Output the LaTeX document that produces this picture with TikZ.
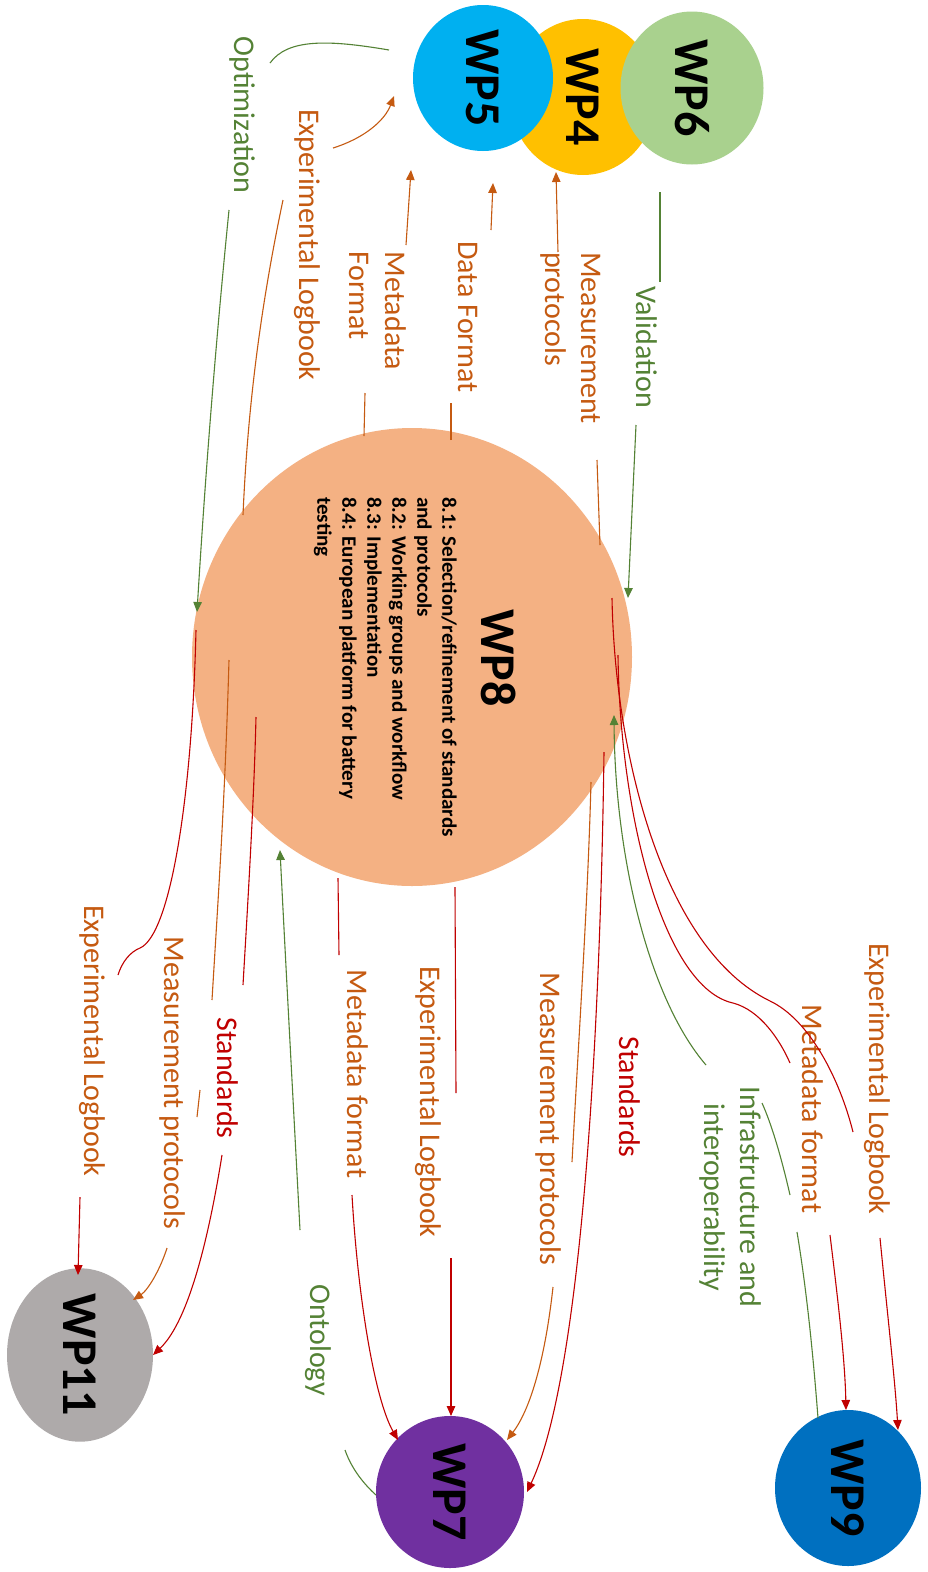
\documentclass[tikz,border=0pt]{standalone}
\usepackage{fontspec}
\setmainfont{Carlito}
\newfontfamily\bodyfont[FakeStretch=1.03]{Carlito}
\usetikzlibrary{shapes.geometric,arrows.meta}
\definecolor{cOr}{HTML}{C55A11}
\definecolor{cGr}{HTML}{548235}
\definecolor{cRd}{HTML}{C00000}
\definecolor{cWPfive}{HTML}{00B0F0}
\definecolor{cWPfour}{HTML}{FFC000}
\definecolor{cWPsix}{HTML}{A9D18E}
\definecolor{cWPeight}{HTML}{F4B183}
\definecolor{cWPnine}{HTML}{0070C0}
\definecolor{cWPseven}{HTML}{7030A0}
\definecolor{cWPeleven}{HTML}{AEAAAA}
\begin{document}
\begin{tikzpicture}[x=1pt,y=-1pt,
  wp/.style={ellipse,draw=none,inner sep=0pt,rotate=-90,text=black,
    font=\bfseries\fontsize{50}{50}\selectfont},
  lbl/.style={rotate=-90,font=\fontsize{30}{36}\selectfont,inner sep=0pt,align=center},
  lblL/.style={lbl,align=left},
  con/.style={line width=1.1pt},
  arr/.style={con,-{Triangle[length=10pt,width=8.5pt]}},
]
\fill[white] (0,0) rectangle (927,1572);
\useasboundingbox (0,0) rectangle (927,1572);

% ---------- work package circles ----------
\node[wp,fill=cWPfour,minimum width=156pt,minimum height=146pt] (wp4) at (583,97) {WP4};
\node[wp,fill=cWPfive,minimum width=146pt,minimum height=140pt] (wp5) at (483,78) {WP5};
\node[wp,fill=cWPsix,minimum width=153pt,minimum height=143pt] (wp6) at (692,88) {WP6};
\node[wp,fill=cWPeight,minimum width=458pt,minimum height=440pt] (wp8) at (412,657) {};
\node[wp,fill=cWPnine,minimum width=156pt,minimum height=146pt] (wp9) at (848,1488) {WP9};
\node[wp,fill=cWPseven,minimum width=152pt,minimum height=148pt] (wp7) at (450,1492) {WP7};
\node[wp,fill=cWPeleven,minimum width=150pt,minimum height=146pt] (wp11) at (80,1355) {WP11};

\node[rotate=-90,inner sep=0pt,font=\bfseries\fontsize{50}{50}\selectfont] (wp8t) at (499,658) {WP8};
\node[rotate=-90,anchor=north west,align=left,inner sep=0pt,
  font=\bodyfont\bfseries\fontsize{20.5}{25}\selectfont] (wp8b) at (457,497)
  {8.1: Selection/refinement of standards\\and protocols\\8.2: Working groups and workflow\\8.3: Implementation\\8.4: European platform for battery\\testing};

% ---------- labels ----------
\node[lbl,text=cGr] (lOpt) at (242,115) {Optimization};
\node[lbl,text=cOr] (lElT) at (307,245) {Experimental Logbook};
\node[lblL,text=cOr] (lMfT) at (378,311) {Metadata\\Format};
\node[lbl,text=cOr] (lDf) at (468,317) {Data Format};
\node[lblL,text=cOr] (lMpT) at (571,338) {Measurement\\protocols};
\node[lbl,text=cGr] (lVal) at (647,347) {Validation};

\node[lbl,text=cOr] (lElL) at (92,1041) {Experimental Logbook};
\node[lbl,text=cOr] (lMpL) at (172,1083) {Measurement protocols};
\node[lbl,text=cRd] (lStL) at (228,1078) {Standards};
\node[lbl,text=cGr] (lOnt) at (318,1340) {Ontology};
\node[lbl,text=cOr] (lMfM) at (358,1074) {Metadata format};
\node[lbl,text=cOr] (lElM) at (428,1102) {Experimental Logbook};
\node[lbl,text=cOr] (lMpM) at (548,1119) {Measurement protocols};
\node[lbl,text=cRd] (lStR) at (630,1097) {Standards};
\node[lbl,text=cGr] (lInf) at (730,1197) {Infrastructure and\\interoperability};
\node[lbl,text=cOr] (lMfR) at (813,1109) {Metadata format};
\node[lbl,text=cOr] (lElR) at (877,1079) {Experimental Logbook};

% ---------- connector end points ----------
% top group
\coordinate (opA) at (389,50);  \coordinate (opB) at (270,63);
\coordinate (opC) at (229,210); \coordinate (opD) at (197,612);
\coordinate (elA) at (243,515); \coordinate (elB) at (283,200);
\coordinate (elC) at (333,148); \coordinate (elD) at (394,96);
\coordinate (mfA) at (364,436); \coordinate (mfB) at (365,393);
\coordinate (mfC) at (406,245); \coordinate (mfD) at (411,170);
\coordinate (dfA) at (451,440); \coordinate (dfB) at (451,403);
\coordinate (dfC) at (491,230); \coordinate (dfD) at (493,183);
\coordinate (mpA) at (600,545); \coordinate (mpB) at (597,460);
\coordinate (mpC) at (558,252); \coordinate (mpD) at (556,172);
\coordinate (vaA) at (660,192); \coordinate (vaB) at (660,282);
\coordinate (vaC) at (636,425); \coordinate (vaD) at (628,598);
% right group
\coordinate (r1A) at (612,598); \coordinate (r1M) at (770,1001); \coordinate (r1B) at (853,1132);
\coordinate (r1C) at (880,1238); \coordinate (r1D) at (898,1430);
\coordinate (r2A) at (618,655); \coordinate (r2M) at (733,1003); \coordinate (r2B) at (790,1063);
\coordinate (r2C) at (830,1235); \coordinate (r2D) at (846,1410);
\coordinate (giA) at (818,1418); \coordinate (giB) at (797,1232);
\coordinate (giC) at (790,1195); \coordinate (giD) at (762,1103);
\coordinate (giE) at (706,1065); \coordinate (giF) at (614,715);
% middle group
\coordinate (stA) at (604,752); \coordinate (stB) at (527,1492);
\coordinate (m7A) at (591,782); \coordinate (m7B) at (572,1162);
\coordinate (m7C) at (553,1287); \coordinate (m7D) at (507,1440);
\coordinate (e7A) at (455,887); \coordinate (e7B) at (456,1093);
\coordinate (e7C) at (451,1258); \coordinate (e7D) at (451,1416);
\coordinate (f7A) at (338,878); \coordinate (f7B) at (339,955);
\coordinate (f7C) at (352,1195); \coordinate (f7D) at (398,1440);
\coordinate (onA) at (376,1495); \coordinate (onB) at (345,1450);
\coordinate (onC) at (300,1230); \coordinate (onD) at (280,850);
% left group
\coordinate (e1A) at (196,630); \coordinate (e1M) at (140,948); \coordinate (e1B) at (118,975);
\coordinate (e1C) at (80,1197); \coordinate (e1D) at (78,1275);
\coordinate (m1A) at (229,660); \coordinate (m1B) at (212,1000);
\coordinate (m1C) at (200,1090); \coordinate (m1D) at (197,1117);
\coordinate (m1E) at (167,1248); \coordinate (m1F) at (133,1300);
\coordinate (s1A) at (256,717); \coordinate (s1B) at (243,985);
\coordinate (s1C) at (222,1155); \coordinate (s1D) at (153,1355);

% ---------- connectors ----------
% WP5 -> WP8 optimization
\draw[con,cGr] (opA) .. controls (330,40) and (288,38) .. (opB);
\draw[arr,cGr] (opC) .. controls (215,350) and (205,480) .. (opD);
% WP8 -> WP5 experimental logbook
\draw[con,cOr] (elA) .. controls (248,400) and (262,300) .. (elB);
\draw[arr,cOr] (elC) .. controls (365,138) and (385,120) .. (elD);
% WP8 -> WP5 metadata / data format
\draw[con,cOr] (mfA) -- (mfB);
\draw[arr,cOr] (mfC) -- (mfD);
\draw[con,cOr] (dfA) -- (dfB);
\draw[arr,cOr] (dfC) -- (dfD);
% WP8 -> WP4 measurement protocols
\draw[con,cOr] (mpA) -- (mpB);
\draw[arr,cOr] (mpC) -- (mpD);
% WP6 -> WP8 validation
\draw[con,cGr] (vaA) -- (vaB);
\draw[arr,cGr] (vaC) -- (vaD);

% WP8 -> WP9
\draw[con,cRd] (r1A) .. controls (615,760) and (665,950) .. (r1M)
   .. controls (810,1020) and (840,1080) .. (r1B);
\draw[arr,cRd] (r1C) .. controls (888,1320) and (895,1380) .. (r1D);
\draw[con,cRd] (r2A) .. controls (620,820) and (665,988) .. (r2M)
   .. controls (760,1010) and (780,1040) .. (r2B);
\draw[arr,cRd] (r2C) .. controls (838,1300) and (845,1360) .. (r2D);
% WP9 -> WP8 infrastructure
\draw[con,cGr] (giA) .. controls (812,1340) and (805,1280) .. (giB);
\draw[con,cGr] (giC) .. controls (782,1160) and (772,1125) .. (giD);
\draw[arr,cGr] (giE) .. controls (650,1000) and (615,860) .. (giF);

% WP8 -> WP7
\draw[arr,cRd] (stA) .. controls (600,1050) and (580,1380) .. (stB);
\draw[con,cOr] (m7A) .. controls (588,900) and (578,1050) .. (m7B);
\draw[arr,cOr] (m7C) .. controls (545,1360) and (530,1410) .. (m7D);
\draw[con,cRd] (e7A) -- (e7B);
\draw[arr,cRd] (e7C) -- (e7D);
\draw[con,cRd] (f7A) -- (f7B);
\draw[arr,cRd] (f7C) .. controls (358,1300) and (375,1400) .. (f7D);
% WP7 -> WP8 ontology
\draw[con,cGr] (onA) .. controls (365,1485) and (352,1470) .. (onB);
\draw[arr,cGr] (onC) .. controls (292,1080) and (285,950) .. (onD);

% WP8 -> WP11
\draw[con,cRd] (e1A) .. controls (192,800) and (170,935) .. (e1M)
   .. controls (130,952) and (122,962) .. (e1B);
\draw[arr,cRd] (e1C) -- (e1D);
\draw[con,cOr] (m1A) .. controls (225,800) and (218,900) .. (m1B);
\draw[con,cOr] (m1C) -- (m1D);
\draw[arr,cOr] (m1E) .. controls (160,1270) and (148,1290) .. (m1F);
\draw[con,cRd] (s1A) .. controls (254,800) and (248,900) .. (s1B);
\draw[arr,cRd] (s1C) .. controls (210,1230) and (190,1320) .. (s1D);
\end{tikzpicture}
\end{document}
